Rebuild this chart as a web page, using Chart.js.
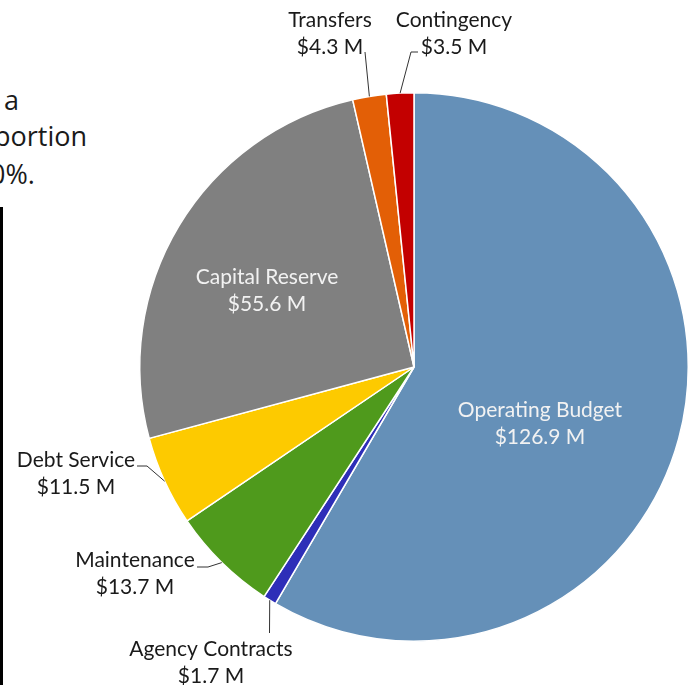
<!DOCTYPE html>
<html>
<head>
<meta charset="utf-8">
<script src="https://cdn.jsdelivr.net/npm/chart.js@4/dist/chart.umd.min.js"></script>
<style>
  html, body { margin: 0; padding: 0; background: #fff; overflow: hidden; }
  #wrap { position: relative; width: 699px; height: 685px; }
  #chart { position: absolute; left: 0; top: 0; }
  .frag { position: absolute; font-family: "Open Sans", "Liberation Sans", sans-serif; font-size: 27px; color: #1a1a1a; white-space: nowrap; line-height: 1; }
  #bar { position: absolute; left: 0; top: 207px; width: 3px; height: 478px; background: #000; }
</style>
</head>
<body>
<div id="wrap">
  <div class="frag" style="left:4px;top:86px;">a</div>
  <div class="frag" style="left:-6px;top:122px;">portion</div>
  <div class="frag" style="left:-10px;top:160px;">0%.</div>
  <div id="bar"></div>
  <canvas id="chart" width="699" height="685"></canvas>
</div>
<script>
// budget split, in $ millions, clockwise from 12 o'clock
const categories = ['Operating Budget', 'Agency Contracts', 'Maintenance', 'Debt Service', 'Capital Reserve', 'Transfers', 'Contingency'];
const amounts = [126.9, 1.7, 13.7, 11.5, 55.6, 4.3, 3.5];
const amountLabels = ['$126.9 M', '$1.7 M', '$13.7 M', '$11.5 M', '$55.6 M', '$4.3 M', '$3.5 M'];
const sliceColors = ['#6590b8', '#2e2eb8', '#4f9a1c', '#fdca00', '#808080', '#e35f06', '#c30000'];

// where each label sits, and the leader line from the slice edge to it
const labelSpots = [
    { x: 540, y: 410, inside: true, leader: [] },
    { x: 211, y: 649, inside: false, leader: [[269.5, 633]] },
    { x: 135, y: 560, inside: false, leader: [[208, 567], [197, 567]] },
    { x: 76, y: 460, inside: false, leader: [[147, 466], [137, 466]] },
    { x: 267, y: 277, inside: true, leader: [] },
    { x: 330, y: 20, inside: false, leader: [[365, 52]] },
    { x: 454, y: 20, inside: false, leader: [[411, 52], [418, 52]] }
];

const sliceLabels = {
    id: 'sliceLabels',
    afterDatasetsDraw(chart) {
        const ctx = chart.ctx;
        const arcs = chart.getDatasetMeta(0).data;
        ctx.save();
        ctx.font = '21px Lato, "DejaVu Sans", sans-serif';
        ctx.textAlign = 'center';
        ctx.textBaseline = 'middle';
        arcs.forEach((arc, i) => {
            const p = arc.getProps(['x', 'y', 'startAngle', 'endAngle', 'outerRadius'], true);
            const mid = (p.startAngle + p.endAngle) / 2;
            const spot = labelSpots[i];
            if (spot.leader.length) {
                ctx.beginPath();
                ctx.moveTo(p.x + Math.cos(mid) * p.outerRadius, p.y + Math.sin(mid) * p.outerRadius);
                spot.leader.forEach(pt => ctx.lineTo(pt[0], pt[1]));
                ctx.strokeStyle = '#333';
                ctx.lineWidth = 1;
                ctx.stroke();
            }
            ctx.fillStyle = spot.inside ? '#f2f2f2' : '#1a1a1a';
            ctx.fillText(categories[i], spot.x, spot.y);
            ctx.fillText(amountLabels[i], spot.x, spot.y + 27);
        });
        ctx.restore();
    }
};

new Chart(document.getElementById('chart').getContext('2d'), {
    type: 'pie',
    data: {
        labels: categories,
        datasets: [{
            data: amounts,
            backgroundColor: sliceColors,
            borderColor: '#ffffff',
            borderWidth: 1.5
        }]
    },
    options: {
        responsive: false,
        animation: false,
        devicePixelRatio: 1,
        layout: { padding: { left: 139, right: 10, top: 92, bottom: 43 } },
        plugins: {
            legend: { display: false },
            tooltip: { enabled: false }
        }
    },
    plugins: [sliceLabels]
});
</script>
</body>
</html>
